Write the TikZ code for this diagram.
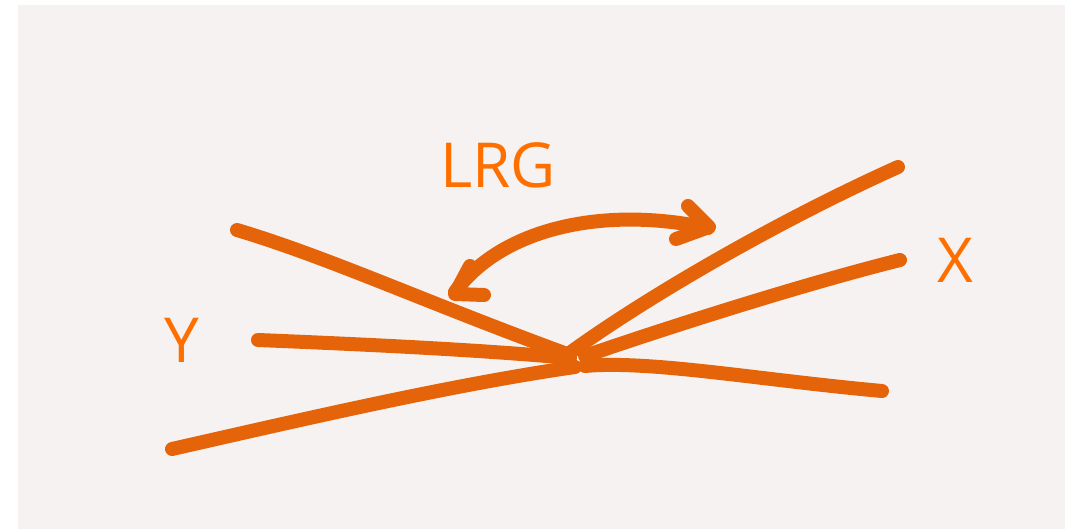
\documentclass[tikz,border=0pt]{standalone}
\usepackage{fontspec}
\setmainfont{Open Sans}
\definecolor{paper}{HTML}{F5F2F1}
\definecolor{marker}{HTML}{E5640A}
\definecolor{ink}{HTML}{FF6F00}
\begin{document}
\begin{tikzpicture}[x=1pt,y=-1pt,
  pen/.style={draw=marker,line width=14pt,line cap=round,line join=round},
  lbl/.style={text=ink,font=\fontsize{62}{62}\selectfont,inner sep=0pt}]
\useasboundingbox (0,0) rectangle (1077,529);
\fill[white] (0,0) rectangle (1077,529);
\fill[paper] (18,5) rectangle (1065,529);
% strokes meeting near the middle
\draw[pen] (237,230) .. controls (330,258) and (420,300) .. (567,354);
\draw[pen] (258,340) .. controls (380,345) and (480,350) .. (570,358);
\draw[pen] (172,449) .. controls (300,420) and (450,385) .. (575,367);
\draw[pen] (898,167) .. controls (780,220) and (650,295) .. (571,352);
\draw[pen] (900,260) .. controls (800,285) and (660,330) .. (585,356);
\draw[pen] (585,366) .. controls (650,360) and (760,380) .. (882,391);
% double-headed curved arrow
\draw[pen] (455,292) .. controls (500,230) and (600,205) .. (708,228);
\draw[pen] (470,266) -- (455,294) -- (484,295);
\draw[pen] (688,206) -- (709,227) -- (676,239);
% labels
\node[lbl] (lrg) at (498,165) {LRG};
\node[lbl] (xlab) at (955,260) {X};
\node[lbl] (ylab) at (182,340) {Y};
\end{tikzpicture}
\end{document}
